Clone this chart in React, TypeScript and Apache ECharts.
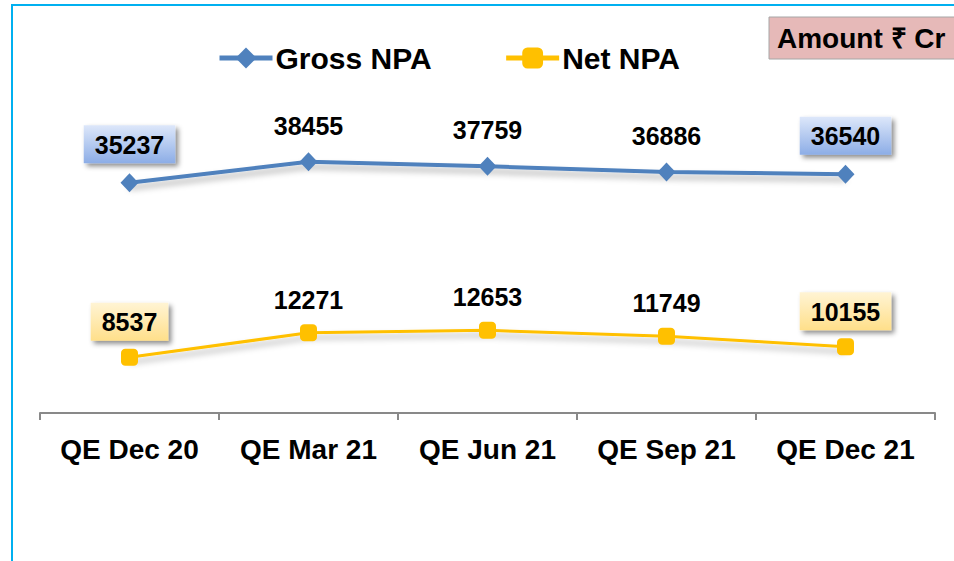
import React, { useEffect, useRef } from "react";
import * as echarts from "echarts";

const categories = ["QE Dec 20", "QE Mar 21", "QE Jun 21", "QE Sep 21", "QE Dec 21"];
const grossNPA = [35237, 38455, 37759, 36886, 36540];
const netNPA = [8537, 12271, 12653, 11749, 10155];
const boxedIndices = [0, 4];
const unitLabel = "Amount ₹ Cr";

const FONT = "'Liberation Sans', Arial, Helvetica, sans-serif";

function grad(top: string, bottom: string) {
  return {
    type: "linear",
    x: 0,
    y: 0,
    x2: 0,
    y2: 1,
    colorStops: [
      { offset: 0, color: top },
      { offset: 1, color: bottom },
    ],
  };
}

function buildData(values: number[], top: string, bottom: string, dist: number) {
  return values.map((v, i) =>
    boxedIndices.includes(i)
      ? {
          value: v,
          label: {
            backgroundColor: grad(top, bottom),
            padding: [6, 11, 5, 11],
            distance: dist,
            shadowColor: "rgba(0,0,0,0.45)",
            shadowBlur: 5,
            shadowOffsetX: 3,
            shadowOffsetY: 3,
          },
        }
      : { value: v }
  );
}

export default function App() {
  const ref = useRef<HTMLDivElement>(null);
  useEffect(() => {
    document.body.style.margin = "0";
    const chart = echarts.init(ref.current!, undefined, { renderer: "svg" });
    const labelBase = {
      show: true,
      position: "top",
      color: "#000",
      fontFamily: FONT,
      fontWeight: "bold",
      fontSize: 25,
      lineHeight: 27,
    };
    chart.setOption({
      animation: false,
      backgroundColor: "#fff",
      grid: { left: 40, right: 19, top: 21, bottom: 148, containLabel: false },
      legend: {
        left: 212,
        top: 38,
        itemWidth: 53,
        itemHeight: 26,
        itemGap: 72,
        lineStyle: { width: 5 },
        textStyle: { fontFamily: FONT, fontWeight: "bold", fontSize: 30, color: "#000", padding: [0, 0, 0, -2] },
        data: ["Gross NPA", "Net NPA"],
      },
      xAxis: {
        type: "category",
        data: categories,
        boundaryGap: true,
        axisLine: { lineStyle: { color: "#898989", width: 2 } },
        axisTick: { show: true, interval: 0, length: 7, lineStyle: { color: "#898989", width: 2 } },
        axisLabel: {
          interval: 0,
          color: "#000",
          fontFamily: FONT,
          fontWeight: "bold",
          fontSize: 28,
          margin: 22,
        },
      },
      yAxis: {
        type: "value",
        min: 0,
        max: 60000,
        show: false,
        splitLine: { show: false },
      },
      series: [
        {
          name: "Gross NPA",
          type: "line",
          data: buildData(grossNPA, "#dde7fa", "#8cade6", 10),
          symbol: "diamond",
          symbolSize: [18, 19],
          itemStyle: { color: "#4F81BD" },
          lineStyle: {
            color: "#4F81BD",
            width: 4,
            shadowColor: "rgba(0,0,0,0.3)",
            shadowBlur: 6,
            shadowOffsetY: 5,
          },
          label: { ...labelBase, distance: 13 },
          z: 3,
        },
        {
          name: "Net NPA",
          type: "line",
          data: buildData(netNPA, "#fff4d4", "#ffdf8a", 8),
          symbol: "roundRect",
          symbolSize: 17,
          itemStyle: { color: "#FFC000" },
          lineStyle: {
            color: "#FFC000",
            width: 3,
            shadowColor: "rgba(0,0,0,0.3)",
            shadowBlur: 6,
            shadowOffsetY: 5,
          },
          label: { ...labelBase, distance: 11 },
          z: 3,
        },
      ],
      graphic: [
        {
          type: "rect",
          shape: { x: 12, y: 5, width: 1200, height: 1200 },
          style: { fill: "none", stroke: "#00B0F0", lineWidth: 2 },
          silent: true,
          z: 0,
        },
        {
          type: "rect",
          shape: { x: 769, y: 17, width: 220, height: 42 },
          style: { fill: "#E6B9B8", stroke: "#a6a6a6", lineWidth: 1 },
          z: 1,
        },
        {
          type: "text",
          x: 777,
          y: 38,
          style: {
            text: unitLabel,
            fill: "#000",
            font: `bold 28px ${FONT}`,
            verticalAlign: "middle",
          },
          z: 2,
        },
      ],
    });
    return () => chart.dispose();
  }, []);
  return <div ref={ref} style={{ width: 954, height: 561, position: "absolute", left: 0, top: 0 }} />;
}
